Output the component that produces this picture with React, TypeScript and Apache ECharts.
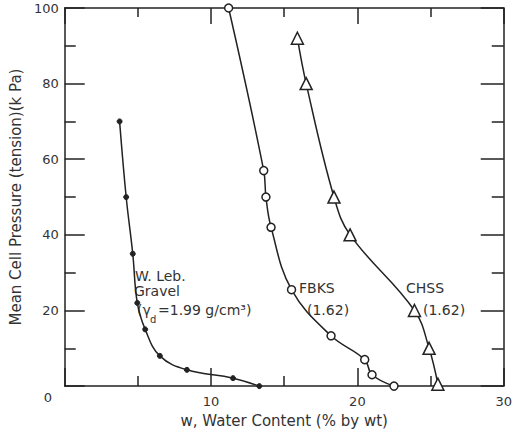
import React, { useEffect, useRef } from "react";
import * as echarts from "echarts";

// Water content (% by wt) vs mean cell pressure (kPa)
const gravelW = [3.75, 4.2, 4.65, 4.96, 5.5, 6.5, 8.35, 11.5, 13.3];
const gravelP = [70, 50, 35, 22, 15, 8, 4.3, 2.1, 0];

const fbksW = [11.2, 13.6, 13.75, 14.1, 15.5, 18.2, 20.5, 21.0, 22.5];
const fbksP = [100, 57, 50, 42, 25.5, 13.3, 7, 3, 0];

const chssW = [15.9, 16.5, 18.4, 19.5, 23.9, 24.9, 25.5];
const chssP = [92, 80, 50, 40, 20, 10, 0.5];

const xTicks = [0, 10, 20, 30];
const yTicks = [0, 20, 40, 60, 80, 100];

const FONT = "DejaVu Sans";
const INK = "#222";
const TXT = "#333";

const zip = (xs: number[], ys: number[]) => xs.map((x, i) => [x, ys[i]]);

export default function App() {
  const ref = useRef<HTMLDivElement>(null);
  useEffect(() => {
    if (!ref.current) return;
    const chart = echarts.init(ref.current, null, { renderer: "svg" });
    const xBase = {
      type: "value" as const,
      min: xTicks[0],
      max: xTicks[xTicks.length - 1],
      interval: xTicks[1] - xTicks[0],
      splitLine: { show: false },
    };
    const yBase = {
      type: "value" as const,
      min: yTicks[0],
      max: yTicks[yTicks.length - 1],
      interval: yTicks[1] - yTicks[0],
      splitLine: { show: false },
    };
    const mkLine = () => ({ show: true, onZero: false, lineStyle: { color: INK, width: 1.5 } });
    const mkTick = (len: number) => ({
      show: true,
      inside: true,
      length: len,
      lineStyle: { color: INK, width: 1.5 },
    });
    const mkMinor = (len: number) => ({
      show: true,
      splitNumber: 2,
      length: len,
      lineStyle: { color: INK, width: 1.5 },
    });
    const hiddenLabel = { show: true, color: "#fff", fontSize: 1, formatter: () => "" };
    const textStyle = { fontFamily: FONT, fontSize: 14, fill: TXT };
    const lineSeries = {
      type: "line" as const,
      smooth: 0.4,
      showAllSymbol: true,
      lineStyle: { color: INK, width: 1.5 },
    };
    chart.setOption({
      animation: false,
      backgroundColor: "#fff",
      grid: { left: 58, right: 7, top: 8, bottom: 46, containLabel: false },
      xAxis: [
        {
          ...xBase,
          position: "bottom",
          axisLine: mkLine(),
          name: "w, Water Content (% by wt)",
          nameLocation: "middle",
          nameGap: 25,
          nameTextStyle: { fontFamily: FONT, fontSize: 15, color: TXT },
          axisTick: mkTick(18),
          minorTick: mkMinor(10),
          axisLabel: {
            fontFamily: FONT,
            fontSize: 13,
            color: TXT,
            margin: 9,
            formatter: (v: number) => (v === 0 ? "" : String(v)),
          },
        },
        {
          ...xBase,
          position: "top",
          axisLine: mkLine(),
          axisTick: mkTick(16),
          minorTick: mkMinor(9),
          axisLabel: hiddenLabel,
        },
      ],
      yAxis: [
        {
          ...yBase,
          position: "left",
          axisLine: mkLine(),
          name: "Mean Cell Pressure (tension)(k Pa)",
          nameLocation: "middle",
          nameGap: 33,
          nameTextStyle: { fontFamily: FONT, fontSize: 15, color: TXT },
          axisTick: mkTick(20),
          minorTick: mkMinor(11),
          axisLabel: {
            fontFamily: FONT,
            fontSize: 13,
            color: TXT,
            margin: 6,
            formatter: (v: number) => (v === 0 ? "" : String(v)),
          },
        },
        {
          ...yBase,
          position: "right",
          axisLine: mkLine(),
          axisTick: mkTick(23),
          minorTick: mkMinor(12),
          axisLabel: hiddenLabel,
        },
      ],
      series: [
        {
          ...lineSeries,
          name: "W. Leb. Gravel",
          data: zip(gravelW, gravelP),
          symbol: "circle",
          symbolSize: 5,
          itemStyle: { color: INK, borderColor: INK },
        },
        {
          ...lineSeries,
          name: "FBKS",
          data: zip(fbksW, fbksP),
          symbol: "circle",
          symbolSize: 8,
          itemStyle: { color: "#fff", borderColor: INK, borderWidth: 1.5 },
        },
        {
          ...lineSeries,
          name: "CHSS",
          // same scales as bottom/left; attached to top/right so those axes draw their ticks
          xAxisIndex: 1,
          yAxisIndex: 1,
          data: zip(chssW, chssP),
          symbol: "triangle",
          symbolSize: 12,
          itemStyle: { color: "#fff", borderColor: INK, borderWidth: 1.5 },
        },
      ],
      graphic: [
        { type: "text", x: 48, y: 397, style: { text: String(yTicks[0]), ...textStyle, fontSize: 13, align: "center", verticalAlign: "middle" } },
        { type: "text", x: 135, y: 276, style: { text: "W. Leb.", ...textStyle, verticalAlign: "middle" } },
        { type: "text", x: 134, y: 291, style: { text: "Gravel", ...textStyle, verticalAlign: "middle" } },
        { type: "text", x: 137, y: 310, style: { text: "(γ", ...textStyle, verticalAlign: "middle" } },
        { type: "text", x: 150, y: 319, style: { text: "d", ...textStyle, fontSize: 10, verticalAlign: "middle" } },
        { type: "text", x: 158, y: 310, style: { text: "=1.99 g/cm³)", ...textStyle, verticalAlign: "middle" } },
        { type: "text", x: 299, y: 288, style: { text: "FBKS", ...textStyle, verticalAlign: "middle" } },
        { type: "text", x: 307, y: 310, style: { text: "(1.62)", ...textStyle, verticalAlign: "middle" } },
        { type: "text", x: 406, y: 288, style: { text: "CHSS", ...textStyle, verticalAlign: "middle" } },
        { type: "text", x: 423, y: 310, style: { text: "(1.62)", ...textStyle, verticalAlign: "middle" } },
      ],
    });
    return () => chart.dispose();
  }, []);
  return (
    <div
      ref={ref}
      style={{ position: "fixed", left: 0, top: 0, width: 515, height: 433 }}
    />
  );
}
